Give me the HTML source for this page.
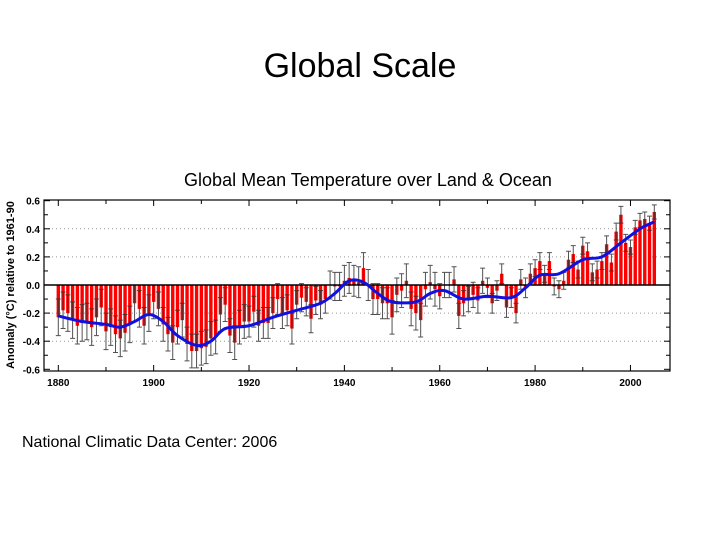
<!DOCTYPE html>
<html><head><meta charset="utf-8"><style>
body{margin:0;width:720px;height:540px;background:#fff;overflow:hidden;position:relative;font-family:"Liberation Sans",sans-serif}
</style></head><body>
<div style="position:absolute;left:0;width:720px;top:47px;text-align:center;font-size:34px;color:#000">Global Scale</div>
<svg id="chart" width="720" height="540" style="position:absolute;left:0;top:0" xmlns="http://www.w3.org/2000/svg">
<text x="368" y="186" text-anchor="middle" font-size="18" font-family="Liberation Sans, sans-serif">Global Mean Temperature over Land &amp; Ocean</text>
<text transform="translate(14,285) rotate(-90)" text-anchor="middle" font-size="11" font-weight="bold" font-family="Liberation Sans, sans-serif">Anomaly (°C) relative to 1961-90</text>
<text x="22" y="447" font-size="16" font-family="Liberation Sans, sans-serif">National Climatic Data Center: 2006</text>
<g id="g"></g>
</svg>
<script>
const years=[];for(let y=1880;y<=2005;y++)years.push(y);
const anomalies=[-0.23,-0.18,-0.2,-0.25,-0.29,-0.27,-0.26,-0.3,-0.23,-0.16,-0.33,-0.3,-0.35,-0.38,-0.34,-0.28,-0.13,-0.17,-0.29,-0.2,-0.12,-0.17,-0.28,-0.35,-0.41,-0.3,-0.25,-0.42,-0.47,-0.47,-0.45,-0.44,-0.38,-0.37,-0.21,-0.14,-0.36,-0.41,-0.3,-0.26,-0.26,-0.19,-0.29,-0.27,-0.27,-0.2,-0.1,-0.2,-0.18,-0.31,-0.14,-0.09,-0.12,-0.24,-0.11,-0.14,-0.1,0.0,-0.01,-0.01,0.03,0.05,0.03,0.02,0.12,0.0,-0.1,-0.1,-0.13,-0.13,-0.23,-0.07,-0.04,0.03,-0.17,-0.2,-0.25,-0.03,0.02,-0.03,-0.08,0.0,0.0,0.04,-0.22,-0.13,-0.1,-0.07,-0.11,0.03,-0.02,-0.13,-0.04,0.08,-0.16,-0.09,-0.2,0.04,-0.02,0.08,0.12,0.17,0.08,0.17,-0.01,-0.03,0.03,0.18,0.22,0.11,0.28,0.24,0.09,0.11,0.17,0.29,0.16,0.38,0.5,0.3,0.27,0.41,0.46,0.47,0.44,0.52];
const errByDecade=[0.13,0.13,0.12,0.12,0.11,0.1,0.11,0.12,0.09,0.07,0.06,0.06,0.05];
const smoothYears=[1880,1885,1890,1893,1896,1899,1902,1905,1909,1912,1915,1920,1925,1930,1935,1938,1941,1944,1947,1950,1955,1958,1961,1965,1970,1975,1978,1981,1985,1990,1994,1998,2002,2005];
const smoothVals=[-0.22,-0.26,-0.28,-0.3,-0.26,-0.21,-0.26,-0.36,-0.43,-0.4,-0.31,-0.29,-0.23,-0.18,-0.13,-0.06,0.03,0.02,-0.06,-0.12,-0.12,-0.06,-0.04,-0.1,-0.08,-0.09,-0.02,0.07,0.08,0.18,0.2,0.3,0.4,0.45];
const yTicks=[-0.6,-0.4,-0.2,0.0,0.2,0.4,0.6];
const xTicks=[1880,1900,1920,1940,1960,1980,2000];

const NS='http://www.w3.org/2000/svg',g=document.getElementById('g');
const L=44,R=670,T=200,B=371;
const X=y=>58.3+(y-1880)*4.768;
const Y=v=>285-v*140.5;
function el(t,a,p){const e=document.createElementNS(NS,t);for(const k in a)e.setAttribute(k,a[k]);(p||g).appendChild(e);return e;}
// grid
yTicks.forEach(v=>{if(v!==0&&Math.abs(v)<0.6){const l=el('line',{x1:L,x2:R,y1:Y(v),y2:Y(v),stroke:'#999','stroke-dasharray':'1,3'});

}});
// bars
years.forEach((yr,i)=>{const v=anomalies[i];const x=X(yr);
const b=el('rect',{x:x-1.7,y:Math.min(Y(v),Y(0)),width:3.4,height:Math.abs(Y(v)-Y(0)),fill:'#f00'});


const e=errByDecade[Math.floor((yr-1880)/10)];
const eb=el('path',{d:`M${x},${Y(v+e)}V${Y(v-e)}M${x-2.5},${Y(v+e)}h5M${x-2.5},${Y(v-e)}h5`,stroke:'#333','stroke-width':1,fill:'none',opacity:0.85});

});
// zero line
const z=el('line',{x1:L,x2:R,y1:Y(0),y2:Y(0),stroke:'#000','stroke-width':1.5});


// smooth line (catmull-rom)
const pts=smoothYears.map((y,i)=>[X(y),Y(smoothVals[i])]);
let d=`M${pts[0][0]},${pts[0][1]}`;
for(let i=0;i<pts.length-1;i++){const p0=pts[Math.max(0,i-1)],p1=pts[i],p2=pts[i+1],p3=pts[Math.min(pts.length-1,i+2)];
d+=`C${p1[0]+(p2[0]-p0[0])/6},${p1[1]+(p2[1]-p0[1])/6} ${p2[0]-(p3[0]-p1[0])/6},${p2[1]-(p3[1]-p1[1])/6} ${p2[0]},${p2[1]}`;}
const sl=el('path',{d:d,stroke:'#1010e0','stroke-width':3,fill:'none'});


// frame
const f=el('rect',{x:L,y:T,width:R-L,height:B-T,fill:'none',stroke:'#000','stroke-width':1.2});


// y ticks
for(let k=-6;k<=6;k++){const v=k/10,y=Y(v),len=(k%2===0)?6:4;
el('line',{x1:L,x2:L+len,y1:y,y2:y,stroke:'#000'});el('line',{x1:R-len,x2:R,y1:y,y2:y,stroke:'#000'});}
yTicks.forEach(v=>{const t=el('text',{x:L-4,y:Y(v)+4,'text-anchor':'end','font-size':10,'font-weight':'bold','font-family':'Liberation Sans, sans-serif'});t.textContent=v.toFixed(1);

});
// x ticks
for(let yr=1880;yr<=2005;yr+=10){const x=X(yr),len=(yr%20===0)?6:4;
el('line',{x1:x,x2:x,y1:B-len,y2:B,stroke:'#000'});el('line',{x1:x,x2:x,y1:T,y2:T+len,stroke:'#000'});}
xTicks.forEach(yr=>{const t=el('text',{x:X(yr),y:B+15,'text-anchor':'middle','font-size':10,'font-weight':'bold','font-family':'Liberation Sans, sans-serif'});t.textContent=yr;

});
</script>
</body></html>
